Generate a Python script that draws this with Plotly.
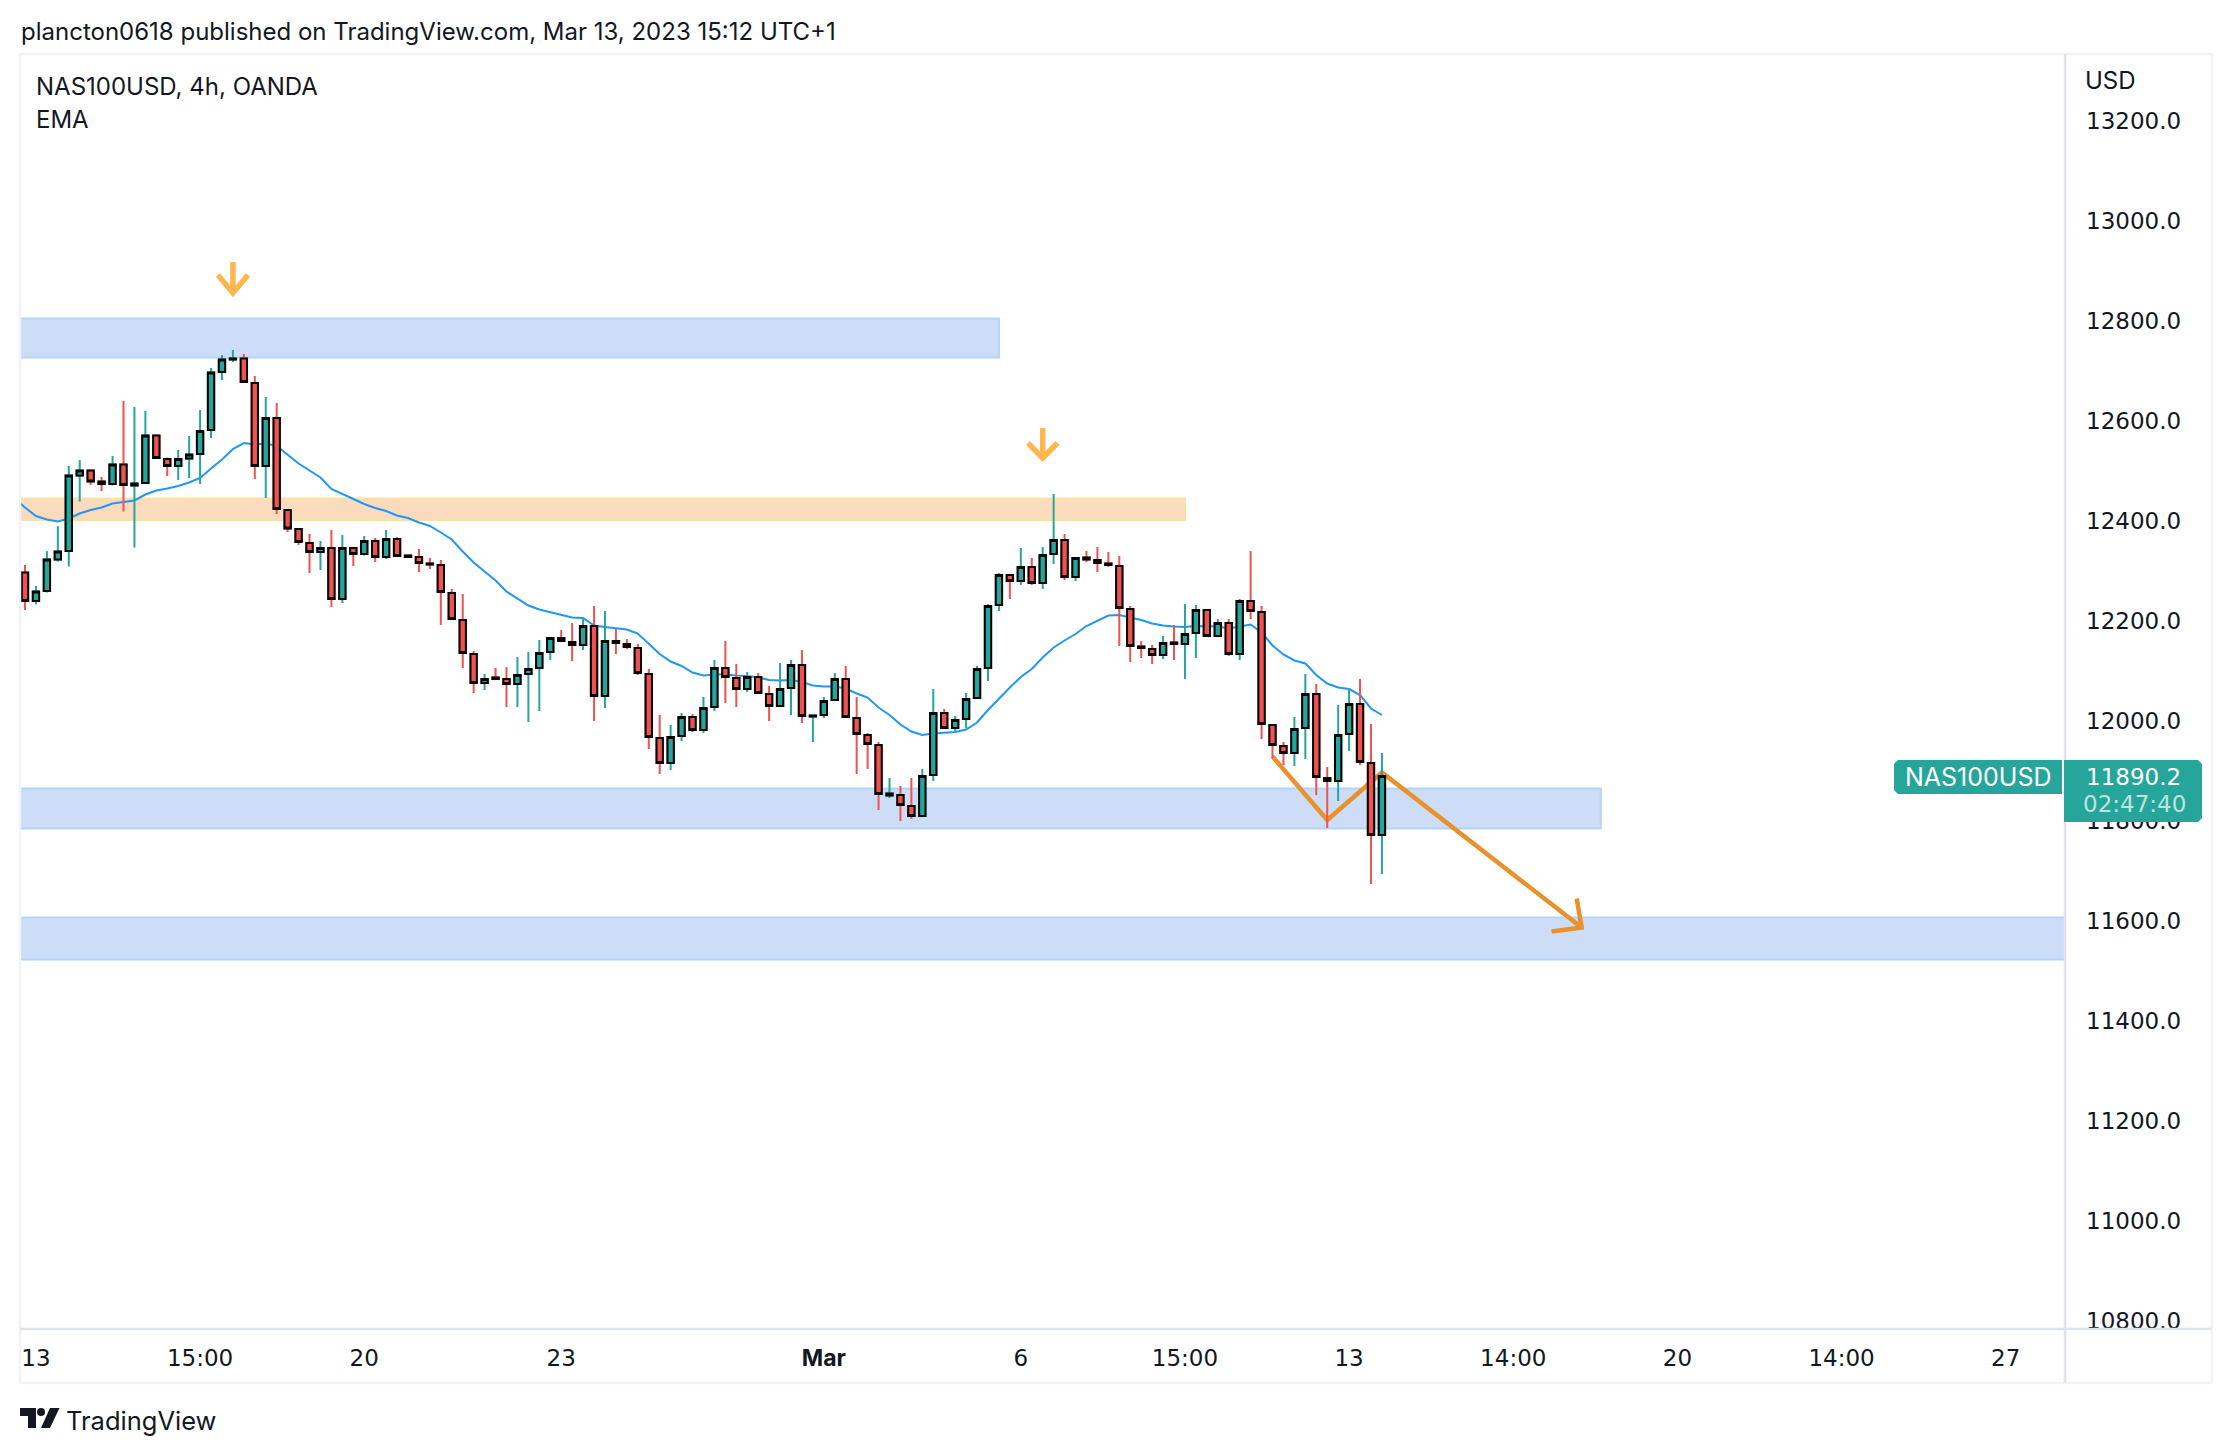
import plotly.graph_objects as go

opens = [12297,12240,12260,12323,12340,12491,12501,12479,12474,12513,12471,12476,12571,12524,12510,12525,12534,12582,12698,12723,
         12725,12676,12510,12606,12422,12384,12356,12338,12346,12244,12346,12334,12360,12328,12364,12331,12328,12315,12312,12256,
         12202,12134,12076,12087,12084,12074,12094,12106,12138,12166,12158,12152,12190,12050,12160,12154,12146,12094,11966,11916,
         11970,12008,11982,12028,12106,12086,12064,12088,12054,12030,12066,12112,12009,12012,12042,12084,12006,11972,11952,11851,
         11852,11830,11810,11892,12016,11986,12004,12046,12106,12232,12292,12280,12308,12276,12334,12362,12288,12327,12322,12315,
         12310,12224,12149,12144,12132,12157,12154,12176,12222,12170,12196,12134,12240,12218,11992,11950,11936,11986,12054,11886,
         11880,11974,12034,11916,11772]
highs = [12312,12270,12340,12390,12510,12522,12501,12488,12530,12640,12628,12620,12571,12527,12542,12570,12622,12706,12732,12742,
         12734,12690,12648,12636,12422,12384,12374,12360,12382,12372,12346,12370,12366,12382,12368,12331,12344,12326,12322,12264,
         12254,12140,12094,12106,12108,12128,12138,12162,12166,12182,12196,12206,12230,12220,12184,12164,12154,12104,12012,11992,
         12016,12014,12048,12122,12160,12114,12098,12096,12070,12116,12122,12142,12011,12048,12096,12110,12048,11976,11958,11886,
         11870,11886,11904,12064,12024,12010,12056,12110,12234,12296,12292,12346,12326,12348,12454,12374,12326,12340,12348,12338,
         12330,12230,12160,12152,12170,12192,12234,12232,12222,12204,12204,12244,12340,12230,11992,11958,12008,12094,12074,11908,
         12032,12064,12084,11994,11936]
lows = [12222,12233,12257,12319,12309,12439,12472,12460,12471,12419,12347,12476,12526,12490,12482,12486,12474,12566,12682,12718,
        12678,12484,12446,12414,12378,12352,12296,12302,12228,12236,12310,12331,12318,12324,12330,12327,12298,12304,12192,12204,
        12106,12056,12062,12084,12028,12028,11998,12020,12122,12160,12120,12142,12000,12026,12134,12144,12092,11944,11894,11902,
        11960,11978,11976,12020,12036,12028,12058,12056,12000,12030,12012,11996,11958,12006,12042,12008,11894,11904,11822,11846,
        11800,11804,11810,11880,11986,11980,11986,12046,12080,12220,12244,12272,12272,12264,12314,12282,12280,12318,12298,12308,
        12150,12118,12126,12114,12124,12122,12084,12126,12170,12170,12130,12122,12204,11964,11926,11912,11910,11924,11852,11786,
        11840,11940,11912,11674,11694]
closes = [12240,12259,12323,12339,12491,12501,12479,12474,12513,12472,12475,12571,12526,12510,12524,12533,12580,12697,12723,12725,
          12678,12510,12606,12424,12385,12358,12338,12346,12244,12346,12334,12360,12328,12364,12330,12328,12316,12313,12258,12204,
          12136,12076,12084,12084,12074,12092,12104,12136,12166,12160,12152,12190,12050,12160,12156,12148,12096,11968,11916,11968,
          12008,11982,12026,12106,12088,12064,12088,12056,12030,12064,12112,12010,12011,12040,12084,12008,11974,11954,11854,11855,
          11832,11810,11890,12016,11986,12002,12044,12104,12230,12292,12280,12308,12276,12332,12362,12288,12326,12323,12316,12312,
          12226,12150,12146,12132,12156,12154,12174,12222,12170,12196,12134,12240,12220,11994,11952,11936,11984,12054,11888,11880,
          11972,12034,11918,11772,11890.2]
ema = [12427,12410,12403,12399,12405,12415,12422,12427,12435,12438,12441,12453,12461,12465,12470,12477,12486,12505,12523,12544,
       12556,12553,12555,12550,12532,12515,12501,12487,12464,12454,12443,12434,12426,12420,12411,12406,12397,12390,12377,12363,
       12339,12317,12299,12281,12259,12245,12231,12223,12218,12213,12207,12206,12191,12188,12186,12183,12175,12155,12134,12119,
       12110,12097,12091,12093,12093,12091,12090,12087,12082,12081,12082,12078,12071,12069,12069,12065,12055,12047,12027,12012,
       11993,11979,11972,11975,11977,11978,11983,11997,12022,12045,12067,12088,12104,12127,12147,12161,12174,12190,12200,12211,
       12212,12207,12202,12195,12191,12189,12188,12190,12190,12189,12185,12189,12193,12177,12151,12133,12121,12115,12092,12075,
       12067,12064,12052,12025,12012]
ema_before = 12446  # barra anterior, fora da tela
bars = list(range(len(closes)))

price_ticks = [13200,13000,12800,12600,12400,12200,12000,11800,11600,11400,11200,11000,10800]
time_ticks = [1,16,31,49,73,91,106,121,136,151,166,181]
time_labels = ["13","15:00","20","23","<span style='font-family:Inter'><b>Mar</b></span>","6","15:00","13","14:00","20","14:00","27"]

# zonas: (fim em barras, topo, base)
blue_zones = [(89,12805,12727),(144,11865,11785),(250,11607,11523)]
orange_zone = (106,12445,12402)

# desenhos laranja
path_x = [114,119,124,142.25]
path_y = [11929,11802,11897,11587]
head_x = [141.8,142.25,139.5]
head_y = [11645,11587,11579]
down1_x = [19,19,None,17.63,19,20.37]
down1_y = [12918,12856,None,12892,12856,12892]
down2_x = [93,93,None,91.65,93,94.35]
down2_y = [12586,12526,None,12556,12526,12556]

TEAL = "#26a69a"
RED = "#ef5350"
INK = "#131722"
FONT = "Inter"
NUM_FONT = "DejaVu Sans"

W, H = 2224, 1446
L, R, T, B = 20, 2065, 54, 1329
x_range = [(L-25)/10.943, (R-25)/10.943]
y_range = [12000+(721-B)*2, 12000+(721-T)*2]

def px(x):
    return (x-L)/(R-L)

def py(y):
    return (B-y)/(B-T)

def texto(x, y, s, size=24, color=INK, anchor="left", family=FONT):
    return dict(x=px(x), y=py(y), xref="paper", yref="paper", text=s, showarrow=False,
                xanchor=anchor, yanchor="middle", align=anchor, font=dict(family=family, size=size, color=color))

def linha(x0, y0, x1, y1, color, width=2):
    return dict(type="line", xref="paper", yref="paper", x0=px(x0), y0=py(y0), x1=px(x1), y1=py(y1),
                line=dict(color=color, width=width), layer="above")

def caminho(pts, color):
    d = "M " + " L ".join(f"{px(a):.5f},{py(b):.5f}" for a, b in pts) + " Z"
    return dict(type="path", xref="paper", yref="paper", path=d, fillcolor=color, line=dict(width=0), layer="above")

fig = go.Figure()

# EMA e desenhos ficam por baixo das velas
fig.add_trace(go.Scatter(x=[-1]+bars, y=[ema_before]+ema, mode="lines", line=dict(color="#2196f3", width=2)))
for xs, ys, w, c in [(path_x, path_y, 4.5, "#e8912d"), (head_x, head_y, 4.5, "#e8912d"),
                     (down1_x, down1_y, 5.5, "#ffb74d"), (down2_x, down2_y, 5.5, "#ffb74d")]:
    fig.add_trace(go.Scatter(x=xs, y=ys, mode="lines", line=dict(color=c, width=w)))

# Pavios
fig.add_trace(go.Candlestick(x=bars, open=opens, high=highs, low=lows, close=closes, xaxis="x2", yaxis="y2",
                             whiskerwidth=0,
                             increasing=dict(line=dict(color=TEAL, width=2), fillcolor=TEAL),
                             decreasing=dict(line=dict(color=RED, width=2), fillcolor=RED)))
# Corpos com contorno preto
fig.add_trace(go.Candlestick(x=bars, open=opens, close=closes, xaxis="x2", yaxis="y2",
                             high=[max(a, b) for a, b in zip(opens, closes)],
                             low=[min(a, b) for a, b in zip(opens, closes)],
                             whiskerwidth=0,
                             increasing=dict(line=dict(color="#000000", width=2), fillcolor=TEAL),
                             decreasing=dict(line=dict(color="#000000", width=2), fillcolor=RED)))

shapes = []
for end, top, low in blue_zones:
    shapes.append(dict(type="rect", xref="x", yref="y", x0=-20, x1=end, y0=low, y1=top, layer="below",
                       fillcolor="#cdddf8", line=dict(color="#b3d4fb", width=2)))
shapes.append(dict(type="rect", xref="x", yref="y", x0=-20, x1=orange_zone[0], y0=orange_zone[2], y1=orange_zone[1],
                   layer="below", fillcolor="#fadbbd", line=dict(color="#ffdfa8", width=2)))

# Moldura
shapes.append(dict(type="rect", xref="paper", yref="paper", x0=px(20), y0=py(1383), x1=px(2212), y1=py(54),
                   line=dict(color="#f0f3fa", width=2.5), layer="above"))
shapes.append(linha(20, 1329, 2212, 1329, "#e0e3eb", 2.5))
shapes.append(linha(2065, 54, 2065, 1383, "#e0e3eb", 2.5))
# 10800.0 cortado pelo eixo do tempo
shapes.append(dict(type="rect", xref="paper", yref="paper", x0=px(2067), y0=py(1344), x1=px(2210), y1=py(1330),
                   fillcolor="#ffffff", line=dict(width=0), layer="above"))

# Etiquetas de preço
shapes.append(caminho([(2064,760),(2198,760),(2202,764),(2202,818),(2198,822),(2064,822)], TEAL))
shapes.append(caminho([(1898,760),(2062,760),(2062,794),(1898,794),(1894,790),(1894,764)], TEAL))

# Logo
shapes.append(caminho([(20,1408),(36,1408),(36,1428),(28,1428),(28,1416),(20,1416)], "#131722"))
shapes.append(dict(type="circle", xref="paper", yref="paper", x0=px(37), x1=px(45), y0=py(1416), y1=py(1408),
                   fillcolor="#131722", line=dict(width=0), layer="above"))
shapes.append(caminho([(50,1408),(59.5,1408),(50,1428),(41,1428)], "#131722"))

annotations = [
    texto(19, 32, "plancton0618 published on TradingView.com, Mar 13, 2023 15:12 UTC+1"),
    texto(34, 86, "NAS100USD, 4h, OANDA"),
    texto(34, 120, "EMA"),
    texto(2083, 81, "USD"),
    texto(1978, 777, "NAS100USD", size=25, color="#ffffff", anchor="center"),
    texto(2133, 777, "11890.2", size=23, color="#ffffff", anchor="center", family=NUM_FONT),
    texto(2134, 804, "02:47:40", size=23, color="rgba(255,255,255,0.7)", anchor="center", family=NUM_FONT),
    texto(64, 1420, "TradingView", size=25.5),
]

fig.update_layout(
    width=W, height=H,
    margin=dict(l=L-8, r=W-(R-8), t=T-8, b=H-(B-8), pad=0),
    paper_bgcolor="#ffffff", plot_bgcolor="#ffffff",
    showlegend=False, boxgap=0.42, boxgroupgap=0, boxmode="overlay",
    shapes=shapes, annotations=annotations,
    xaxis=dict(range=x_range, tickmode="array", tickvals=time_ticks, ticktext=time_labels, showgrid=False, zeroline=False,
               showline=False, ticks="", ticklabelstandoff=13, rangeslider=dict(visible=False),
               tickfont=dict(family=NUM_FONT, size=23, color=INK)),
    yaxis=dict(range=y_range, side="right", tickmode="array", tickvals=price_ticks, ticktext=[f"{v}.0" for v in price_ticks],
               showgrid=False, zeroline=False, showline=False, ticks="", ticklabelstandoff=20,
               tickfont=dict(family=NUM_FONT, size=23, color=INK)),
    xaxis2=dict(range=x_range, overlaying="x", anchor="y2", visible=False, rangeslider=dict(visible=False)),
    yaxis2=dict(range=y_range, overlaying="y", anchor="x2", side="right", visible=False),
)

fig.write_html("out.html")
